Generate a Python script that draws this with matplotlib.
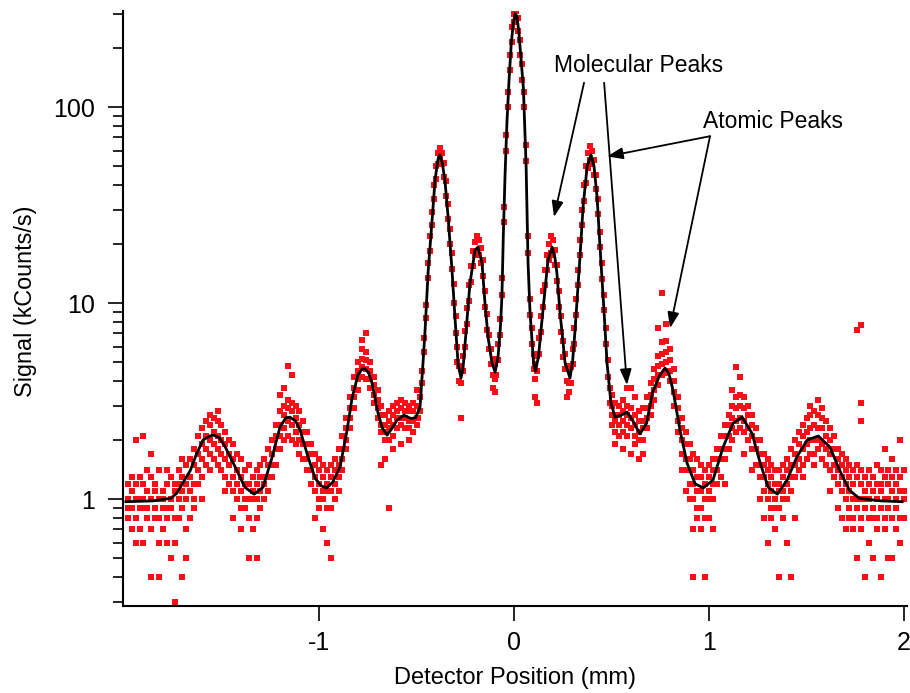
# -*- coding: utf-8 -*-
"""
Detector scan: signal vs detector position, with fit and peak labels.
"""
import matplotlib
matplotlib.use("Agg")
import matplotlib.pyplot as plt
from matplotlib.ticker import FixedLocator, NullFormatter, FuncFormatter

plt.rcParams['font.family'] = ['Liberation Sans', 'DejaVu Sans']

# fit curve (mm, kCounts/s)
fit_x = [-1.99, -1.85, -1.76, -1.73, -1.70, -1.66, -1.63, -1.595, -1.56, -1.54,
         -1.51, -1.48, -1.43, -1.38, -1.333, -1.287, -1.24, -1.20, -1.17, -1.149,
         -1.12, -1.097, -1.056, -1.02, -0.99, -0.96, -0.93, -0.892, -0.856, -0.83,
         -0.80, -0.78, -0.764, -0.745, -0.728, -0.697, -0.675, -0.651, -0.625, -0.60,
         -0.564, -0.53, -0.505, -0.482, -0.467, -0.456, -0.44, -0.42, -0.405, -0.39,
         -0.38, -0.368, -0.354, -0.338, -0.318, -0.303, -0.287, -0.272, -0.262, -0.251,
         -0.226, -0.20, -0.185, -0.164, -0.149, -0.133, -0.113, -0.097, -0.082, -0.07,
         -0.062, -0.055, -0.046, -0.036, -0.025, -0.015, -0.005, 0.005, 0.015, 0.025,
         0.035, 0.048, 0.056, 0.062, 0.072, 0.082, 0.092, 0.10, 0.11, 0.125,
         0.145, 0.174, 0.195, 0.21, 0.22, 0.236, 0.262, 0.287, 0.30, 0.313,
         0.338, 0.354, 0.375, 0.395, 0.41, 0.426, 0.441, 0.462, 0.477, 0.497,
         0.518, 0.55, 0.58, 0.61, 0.646, 0.68, 0.71, 0.748, 0.774, 0.795,
         0.815, 0.851, 0.887, 0.928, 0.97, 1.02, 1.072, 1.123, 1.17, 1.22,
         1.262, 1.303, 1.35, 1.40, 1.45, 1.503, 1.56, 1.62, 1.67, 1.72,
         1.77, 1.88, 1.99]
fit_y = [0.97, 0.98, 1.01, 1.07, 1.2, 1.4, 1.68, 2.0, 2.1, 2.12,
         2.05, 1.84, 1.46, 1.15, 1.06, 1.15, 1.64, 2.33, 2.6, 2.62,
         2.5, 2.25, 1.64, 1.28, 1.17, 1.14, 1.22, 1.46, 2.25, 3.3,
         4.3, 4.6, 4.62, 4.4, 3.9, 2.74, 2.3, 2.12, 2.3, 2.53,
         2.68, 2.58, 2.6, 2.95, 4.9, 7.3, 14.7, 26.6, 42.4, 54,
         57, 52, 42, 27.5, 14.7, 8.5, 4.9, 4.15, 4.6, 6.2,
         12.6, 18.6, 19.3, 16, 10, 6.7, 4.94, 4.45, 5.3, 7.5,
         10.8, 22, 45, 85, 140, 205, 262, 300, 290, 240,
         180, 125, 75, 50, 16, 9, 6.5, 5.0, 4.5, 5.3,
         8.5, 16.5, 19.3, 17, 14.2, 8.9, 4.94, 4.15, 5.0, 7.3,
         17.1, 30.9, 50, 57, 50, 34.6, 19.3, 8.9, 4.94, 3.09,
         2.62, 2.68, 2.78, 2.5, 2.15, 2.44, 3.5, 4.3, 4.66, 4.35,
         3.6, 2.25, 1.53, 1.2, 1.14, 1.25, 1.84, 2.44, 2.62, 2.17,
         1.53, 1.15, 1.06, 1.25, 1.64, 2.0, 2.1, 1.84, 1.4, 1.11,
         1.01, 0.98, 0.97]

# measured points, by detector position column (left wing)
left_pos = [-1.98, -1.96, -1.94, -1.92, -1.90, -1.88, -1.86, -1.84, -1.82, -1.80,
            -1.78, -1.76, -1.74, -1.72, -1.70, -1.68, -1.66, -1.64, -1.62, -1.60,
            -1.58, -1.56, -1.54, -1.52, -1.50, -1.48, -1.46, -1.44, -1.42, -1.40,
            -1.38, -1.36, -1.34, -1.32, -1.30, -1.28, -1.26, -1.24, -1.22, -1.20,
            -1.18, -1.16, -1.14, -1.12, -1.10, -1.08, -1.06, -1.04, -1.02, -1.00,
            -0.98, -0.96, -0.94, -0.92, -0.90, -0.88, -0.86, -0.84, -0.82, -0.80,
            -0.78, -0.76, -0.74, -0.72, -0.70, -0.68, -0.66, -0.64, -0.62, -0.60,
            -0.58, -0.56, -0.54, -0.52, -0.50]
left_sig = [[1.0, 0.9, 0.8, 1.2], [1.1, 0.9, 0.7, 1.3], [1.2, 1.0, 0.8, 2.0, 0.6],
            [1.3, 1.0, 0.9, 0.7], [1.2, 1.0, 0.9, 0.6, 2.1], [1.1, 0.9, 0.8, 1.4],
            [1.3, 1.0, 0.7, 0.4, 1.7], [1.2, 1.1, 0.9, 0.8], [1.4, 1.0, 0.8, 0.6, 0.4],
            [1.1, 1.0, 0.9, 0.7], [1.2, 0.9, 0.8, 0.6, 1.4], [1.3, 1.0, 0.9, 0.5],
            [1.2, 1.1, 0.8, 0.6, 0.3], [1.4, 1.2, 1.0, 0.8], [1.3, 1.1, 0.9, 0.4, 1.6],
            [1.5, 1.2, 1.0, 0.7, 0.5], [1.6, 1.3, 1.1, 0.8], [1.8, 1.5, 1.2, 1.0, 0.9],
            [2.1, 1.7, 1.4, 1.2], [2.3, 1.9, 1.6, 1.3, 1.0], [2.5, 2.1, 1.8, 1.5],
            [2.7, 2.4, 2.0, 1.7, 1.4], [2.6, 2.2, 1.9, 1.6], [2.5, 2.1, 1.8, 1.5, 2.8],
            [2.4, 2.0, 1.7, 1.4], [2.2, 1.9, 1.6, 1.3, 1.1], [2.0, 1.7, 1.5, 1.2],
            [1.9, 1.6, 1.3, 1.1, 0.8], [1.7, 1.4, 1.2, 1.0], [1.6, 1.3, 1.1, 0.9, 0.7],
            [1.4, 1.2, 1.0, 0.9], [1.5, 1.2, 1.0, 0.8, 0.5], [1.3, 1.1, 1.0, 0.7],
            [1.4, 1.2, 1.0, 0.8, 0.5], [1.5, 1.3, 1.1, 0.9], [1.6, 1.3, 1.2, 1.0],
            [1.8, 1.5, 1.3, 1.1], [2.0, 1.7, 1.5, 1.3], [2.4, 2.1, 1.8, 1.5],
            [2.8, 2.4, 2.1, 1.8, 3.4], [3.0, 2.7, 2.3, 2.0, 3.7], [3.2, 2.9, 2.5, 2.1, 4.8],
            [3.1, 2.8, 2.4, 2.0, 4.3], [3.0, 2.6, 2.2, 1.9], [2.8, 2.4, 2.0, 1.7],
            [2.5, 2.2, 1.9, 1.6], [2.2, 1.9, 1.6, 1.4], [1.9, 1.7, 1.4, 1.2],
            [1.7, 1.5, 1.3, 1.1, 0.8], [1.6, 1.4, 1.2, 1.0, 0.9], [1.5, 1.3, 1.1, 1.0, 0.7],
            [1.4, 1.2, 1.1, 0.9, 0.6], [1.5, 1.3, 1.1, 0.9, 0.5], [1.6, 1.4, 1.2, 1.0],
            [1.8, 1.5, 1.3, 1.1], [2.1, 1.8, 1.6, 1.4], [2.6, 2.3, 2.0, 1.8],
            [3.3, 2.9, 2.6, 2.3], [4.2, 3.7, 3.3, 2.9], [5.0, 4.5, 4.1, 3.6],
            [5.8, 5.2, 4.7, 4.2, 6.5], [5.6, 5.1, 4.6, 4.1, 7.0], [5.0, 4.5, 4.1, 3.7],
            [4.2, 3.8, 3.4, 3.1], [3.6, 3.2, 2.9, 2.6], [3.0, 2.7, 2.4, 2.2, 1.5],
            [2.7, 2.4, 2.2, 2.0, 1.6], [2.8, 2.5, 2.3, 2.0, 0.9], [3.0, 2.7, 2.4, 2.1, 1.8],
            [3.1, 2.8, 2.6, 2.3], [3.2, 2.9, 2.6, 2.4, 1.9], [3.1, 2.8, 2.6, 2.3],
            [3.0, 2.8, 2.5, 2.3, 2.0], [3.1, 2.8, 2.5, 2.2], [3.6, 3.0, 2.6, 2.4]]

# central peaks
mid_pos = [-0.49, -0.48, -0.47, -0.46, -0.45, -0.44, -0.43, -0.42, -0.41, -0.40,
           -0.39, -0.38, -0.37, -0.36, -0.35, -0.34, -0.33, -0.32, -0.31, -0.30,
           -0.29, -0.28, -0.27, -0.26, -0.25, -0.24, -0.23, -0.22, -0.21, -0.20,
           -0.19, -0.18, -0.17, -0.16, -0.15, -0.14, -0.13, -0.12, -0.11, -0.10,
           -0.09, -0.08, -0.07, -0.06, -0.05, -0.04, -0.03, -0.02, -0.01, 0.00,
           0.01, 0.02, 0.03, 0.04, 0.05, 0.06, 0.07, 0.08, 0.09, 0.10,
           0.11, 0.12, 0.13, 0.14, 0.15, 0.16, 0.17, 0.18, 0.19, 0.20,
           0.21, 0.22, 0.23, 0.24, 0.25, 0.26, 0.27, 0.28, 0.29, 0.30,
           0.31, 0.32, 0.33, 0.34, 0.35, 0.36, 0.37, 0.38, 0.39, 0.40,
           0.41, 0.42, 0.43, 0.44, 0.45, 0.46, 0.47, 0.48, 0.49]
mid_sig = [[3.0, 2.6], [3.3, 2.8], [4.5, 3.9], [6.6, 5.6], [9.8, 8.4],
           [16, 13.5], [22, 18.5], [29, 25], [40, 34], [50, 43],
           [58, 51], [62, 55], [58, 51], [52, 44], [42, 35],
           [32, 27], [24, 20], [18, 15], [12.5, 10], [8.6, 7.0],
           [6.0, 5.0], [4.8, 4.0], [4.6, 3.9, 2.6], [5.4, 4.5], [7.2, 6.0],
           [9.4, 7.8], [12.4, 10.3], [15.4, 12.8], [18.5, 15.5], [20.5, 17.5],
           [22, 18], [21, 17.5], [19, 16], [16.5, 13.8], [11.5, 9.6],
           [8.8, 7.3], [6.9, 5.8], [5.8, 4.9], [5.2, 4.3, 3.7], [4.9, 4.1, 3.5],
           [5.2, 4.3], [6.2, 5.1], [8.3, 6.9], [13.5, 11], [31, 26],
           [72, 60], [120, 100], [185, 155], [255, 215], [300, 270],
           [310, 285], [285, 245], [220, 185], [165, 138], [120, 100],
           [64, 53], [22, 18], [10.5, 8.7], [7.5, 6.2], [5.5, 4.6],
           [4.9, 4.1, 3.3], [5.4, 4.5, 3.1], [6.6, 5.5], [8.6, 7.1], [11.5, 9.6],
           [14.8, 12.4], [17.6, 14.7], [20, 16.5], [22, 18], [21, 17.5],
           [18.7, 15.6], [15.6, 13], [11.5, 9.6], [8.6, 7.1], [6.4, 5.3],
           [5.5, 4.6], [4.8, 4.0, 3.3], [4.6, 3.9, 3.5], [4.7, 3.9], [5.8, 4.9],
           [7.5, 6.2], [10.5, 8.7], [14.8, 12.4], [21, 17.5], [30, 25],
           [40, 33], [50, 41], [58, 49], [63, 54], [60, 51],
           [54, 45], [45, 38], [34, 28.5], [23, 19.3], [16, 13.3],
           [11, 9.2], [7.5, 6.2], [5.1, 4.2], [3.7, 3.1]]

# right wing
right_pos = [0.50, 0.52, 0.54, 0.56, 0.58, 0.60, 0.62, 0.64, 0.66, 0.68,
             0.70, 0.72, 0.74, 0.76, 0.78, 0.80, 0.82, 0.84, 0.86, 0.88,
             0.90, 0.92, 0.94, 0.96, 0.98, 1.00, 1.02, 1.04, 1.06, 1.08,
             1.10, 1.12, 1.14, 1.16, 1.18, 1.20, 1.22, 1.24, 1.26, 1.28,
             1.30, 1.32, 1.34, 1.36, 1.38, 1.40, 1.42, 1.44, 1.46, 1.48,
             1.50, 1.52, 1.54, 1.56, 1.58, 1.60, 1.62, 1.64, 1.66, 1.68,
             1.70, 1.72, 1.74, 1.76, 1.78, 1.80, 1.82, 1.84, 1.86, 1.88,
             1.90, 1.92, 1.94, 1.96, 1.98, 2.00]
right_sig = [[3.4, 3.0, 2.7, 2.4], [3.1, 2.7, 2.5, 2.2, 1.9], [3.0, 2.7, 2.4, 2.1],
             [3.2, 2.8, 2.5, 2.2, 1.8], [3.7, 3.0, 2.7, 2.4, 2.1], [3.7, 2.9, 2.6, 2.3, 1.7],
             [3.3, 2.7, 2.4, 2.1, 1.9], [2.8, 2.5, 2.2, 2.0, 1.6], [2.9, 2.5, 2.3, 2.0, 1.7],
             [3.3, 2.9, 2.6, 2.3], [3.9, 3.4, 3.0, 2.7], [4.6, 4.1, 3.6, 3.2],
             [5.4, 4.8, 4.3, 3.8, 7.5], [6.3, 5.5, 4.9, 4.3, 11.2], [6.4, 5.6, 5.0, 4.4, 7.8],
             [5.8, 5.1, 4.5, 4.0], [4.6, 4.0, 3.5, 3.0], [3.3, 2.9, 2.5, 2.2],
             [2.6, 2.3, 2.0, 1.7, 1.4], [2.2, 1.9, 1.6, 1.4, 1.1], [1.9, 1.6, 1.4, 1.2, 1.0],
             [1.7, 1.4, 1.2, 1.0, 0.7, 0.4], [1.6, 1.3, 1.1, 0.9, 0.8], [1.5, 1.3, 1.1, 0.9, 0.7],
             [1.4, 1.2, 1.0, 0.8, 0.4], [1.5, 1.3, 1.1, 1.0, 0.8], [1.6, 1.4, 1.2, 1.0, 0.7],
             [1.8, 1.6, 1.4, 1.2], [2.1, 1.8, 1.6, 1.3], [2.4, 2.1, 1.8, 1.6, 1.2],
             [2.7, 2.4, 2.1, 1.8], [3.0, 2.6, 2.3, 2.0, 3.6], [3.3, 2.9, 2.5, 2.2, 4.7],
             [3.4, 3.0, 2.6, 2.3, 4.2], [3.3, 2.9, 2.5, 2.2, 1.7], [3.0, 2.7, 2.3, 2.0],
             [2.7, 2.4, 2.1, 1.8, 1.4], [2.3, 2.0, 1.8, 1.5], [2.0, 1.7, 1.5, 1.3, 1.0],
             [1.7, 1.5, 1.3, 1.1, 0.8], [1.6, 1.4, 1.2, 1.0, 0.6], [1.5, 1.3, 1.1, 0.9, 0.8],
             [1.4, 1.2, 1.0, 0.9, 0.7], [1.4, 1.2, 1.1, 0.9, 0.4], [1.5, 1.3, 1.1, 1.0, 0.8],
             [1.6, 1.4, 1.2, 1.0, 0.6], [1.8, 1.5, 1.3, 1.1, 0.4], [2.0, 1.7, 1.5, 1.3, 0.8],
             [2.2, 1.9, 1.6, 1.4], [2.4, 2.1, 1.8, 1.5, 1.3], [2.6, 2.2, 1.9, 1.6],
             [2.7, 2.3, 2.0, 1.7, 3.0], [2.8, 2.4, 2.0, 1.7, 1.5], [2.7, 2.3, 2.0, 1.8, 3.2],
             [2.6, 2.3, 1.9, 1.6, 2.9], [2.5, 2.1, 1.8, 1.5], [2.3, 2.0, 1.7, 1.4, 1.1],
             [2.1, 1.8, 1.5, 1.3], [1.8, 1.6, 1.4, 1.2, 0.9], [1.7, 1.5, 1.3, 1.1, 0.8],
             [1.6, 1.4, 1.2, 1.0, 0.7], [1.5, 1.3, 1.1, 0.9, 0.8], [1.4, 1.2, 1.0, 0.8, 0.7],
             [1.5, 1.3, 1.0, 0.9, 0.5, 7.3], [1.4, 1.2, 1.0, 0.8, 0.7, 7.7, 3.1, 2.5],
             [1.3, 1.1, 1.0, 0.9, 0.4], [1.4, 1.2, 1.0, 0.8, 0.6], [1.3, 1.1, 0.9, 0.8, 0.5],
             [1.5, 1.2, 1.0, 0.8, 0.7], [1.4, 1.2, 1.1, 0.9, 0.4], [1.8, 1.3, 1.0, 0.8, 0.7],
             [1.4, 1.2, 1.0, 0.9, 0.5], [1.6, 1.3, 1.1, 0.8, 0.5], [1.4, 1.2, 1.0, 0.9, 0.7],
             [2.0, 1.3, 1.1, 0.8, 0.6], [1.4, 1.1, 1.0, 0.8]]

# annotation anchors (data coords): label, text spot, arrow starts -> tips
mol_text = (0.641, 162)
mol_arrows = [((0.359, 133), (0.205, 27.5)), ((0.462, 133), (0.579, 3.82))]
atom_text = (1.328, 84)
atom_arrows = [((1.005, 71), (0.477, 56)), ((1.005, 71), (0.80, 7.45))]


def expand(pos, sig):
    xs, ys = [], []
    for p, vals in zip(pos, sig):
        for v in vals:
            xs.append(p)
            ys.append(v)
    return xs, ys


fig = plt.figure(figsize=(9.1, 6.93), dpi=100)
ax = fig.add_axes([123/910, 87/693, 784/910, 595/693])

for pos, sig in [(left_pos, left_sig), (mid_pos, mid_sig), (right_pos, right_sig)]:
    xs, ys = expand(pos, sig)
    ax.plot(xs, ys, 's', color='#fa0f19', markersize=3.7, markeredgewidth=0, zorder=2)

ax.plot(fit_x, fit_y, color='black', lw=2.0, zorder=3)

ax.set_yscale('log')
ax.set_xlim(-2.005, 2.015)
ax.set_ylim(0.285, 309)

ax.set_xticks([-1, 0, 1, 2])
ax.set_xticklabels(['-1', '0', '1', '2'])
ax.yaxis.set_major_locator(FixedLocator([1, 10, 100]))
ax.yaxis.set_major_formatter(FuncFormatter(lambda v, p: '%g' % v))
ax.yaxis.set_minor_locator(FixedLocator([0.3, 0.4, 0.5, 0.6, 0.7, 0.8, 0.9,
                                         2, 3, 4, 5, 6, 7, 8, 9,
                                         20, 30, 40, 50, 60, 70, 80, 90, 200, 300]))
ax.yaxis.set_minor_formatter(NullFormatter())

for s in ['top', 'right']:
    ax.spines[s].set_visible(False)
for s in ['left', 'bottom']:
    ax.spines[s].set_linewidth(1.5)

ax.tick_params(axis='y', which='major', length=11, width=1.2, labelsize=18, pad=9)
ax.tick_params(axis='y', which='minor', length=7, width=1.2)
ax.tick_params(axis='x', which='major', length=11, width=1.2, labelsize=18, pad=7)

ax.set_xlabel('Detector Position (mm)', fontsize=17)
ax.set_ylabel('Signal (kCounts/s)', fontsize=16.8)
ax.xaxis.set_label_coords(0.5, -0.103)
ax.yaxis.set_label_coords(-0.110, 0.512)

arrow_kw = dict(arrowstyle='-|>,head_length=0.95,head_width=0.35', color='black',
                lw=1.3, shrinkA=0, shrinkB=0, mutation_scale=10)

ax.text(mol_text[0], mol_text[1], 'Molecular Peaks', fontsize=16.5, ha='center', va='center')
for start, tip in mol_arrows:
    ax.annotate('', xy=tip, xytext=start, arrowprops=arrow_kw)

ax.text(atom_text[0], atom_text[1], 'Atomic Peaks', fontsize=16.5, ha='center', va='center')
for start, tip in atom_arrows:
    ax.annotate('', xy=tip, xytext=start, arrowprops=arrow_kw)

fig.savefig('out.png', dpi=100)
